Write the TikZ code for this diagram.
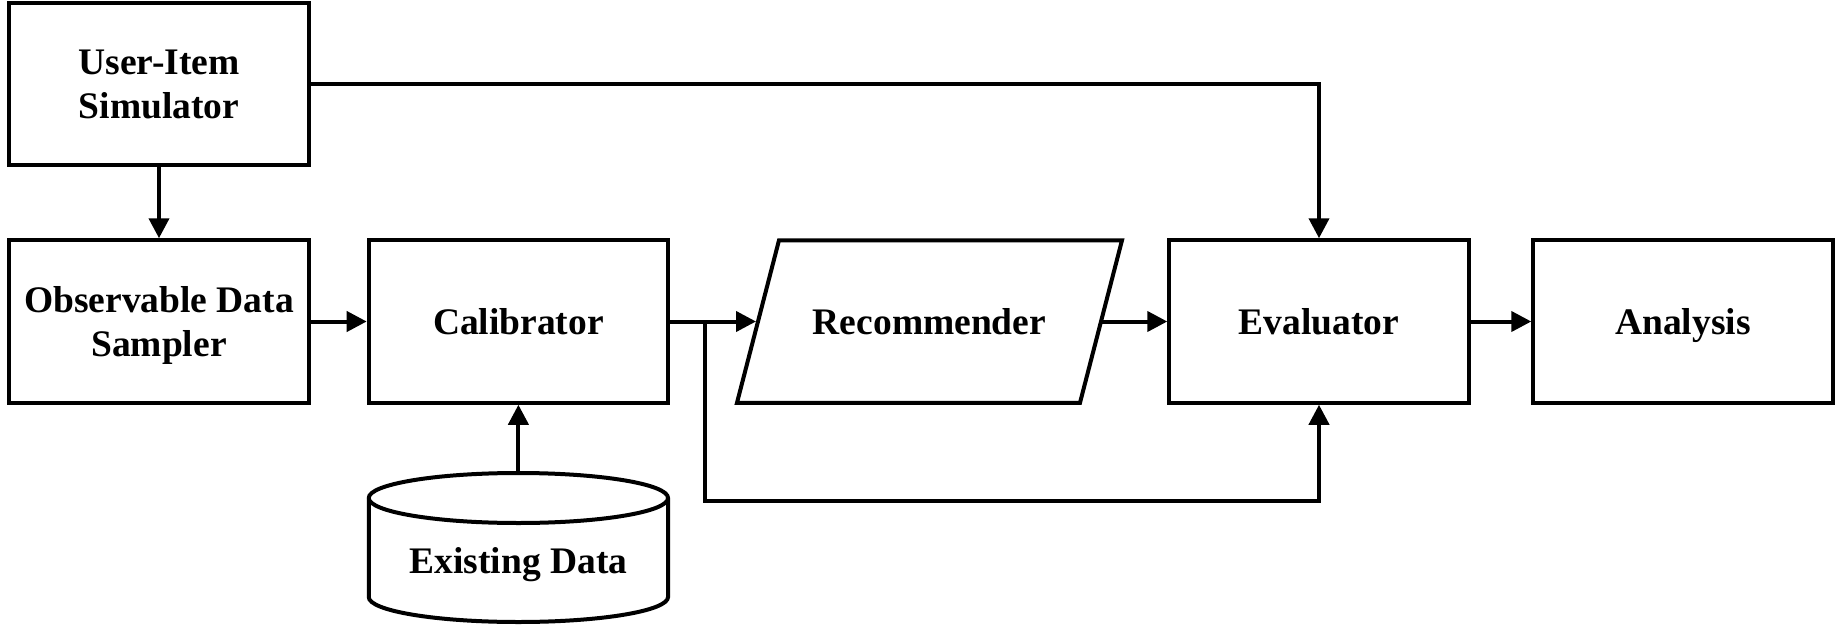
\documentclass[tikz,border=0pt]{standalone}
\usepackage{fontspec}
\setmainfont{Liberation Serif}
\usetikzlibrary{arrows.meta}
\begin{document}
\begin{tikzpicture}[x=1pt,y=1pt,
  txt/.style={font=\fontsize{37.5}{44}\selectfont\bfseries, align=center, text depth=0pt},
  box/.style={txt, draw, line width=4pt, minimum width=299.4pt, minimum height=162.5pt, inner sep=0pt},
  lbl/.style={txt, inner sep=0pt},
  wire/.style={line width=4pt},
  conn/.style={line width=4pt, -{Triangle[length=20pt,width=20pt]}}]
\useasboundingbox (0,0) rectangle (1835,625);
% boxes
\node[box] (sim) at (159,540.75) {User-Item\\Simulator};
\node[box] (obs) at (159,303.5) {Observable Data\\Sampler};
\node[box] (cal) at (518.4,303.5) {Calibrator};
\node[box] (eva) at (1319,303.5) {Evaluator};
\node[box] (ana) at (1683,303.5) {Analysis};
% recommender parallelogram
\draw[wire] (737,222.25) -- (1080,222.25) -- (1122,384.75) -- (779,384.75) -- cycle;
\node[lbl] (rec) at (929.5,303.5) {Recommender};
\coordinate (recW) at (756,303.5);
\coordinate (recE) at (1101,303.5);
% existing data cylinder
\draw[wire] (368.75,127) -- (368.75,28) arc[start angle=180, end angle=360, x radius=149.65, y radius=25]
  -- (668.05,127) arc[start angle=0, end angle=180, x radius=149.65, y radius=25] -- cycle;
\draw[wire] (368.75,127) arc[start angle=180, end angle=360, x radius=149.65, y radius=25];
\node[lbl] (data) at (518.4,64.5) {Existing Data};
\coordinate (datatop) at (518.4,154);
% junction coordinates
\coordinate (j) at (704.5,303.5);
\coordinate (jb) at (704.5,124);
% connectors
\draw[conn] (sim.south) -- (obs.north);
\draw[conn] (sim.east) -| (eva.north);
\draw[conn] (obs.east) -- (cal.west);
\draw[conn] (datatop) -- (cal.south);
\draw[conn] (cal.east) -- (recW);
\draw[conn] (j) -- (jb) -| (eva.south);
\draw[conn] (recE) -- (eva.west);
\draw[conn] (eva.east) -- (ana.west);
\end{tikzpicture}
\end{document}
